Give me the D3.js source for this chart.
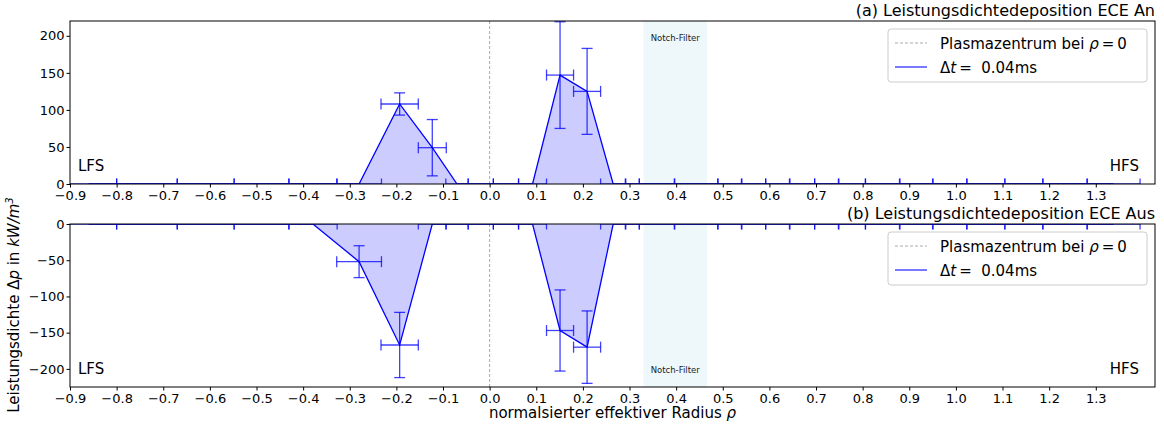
<!DOCTYPE html>
<html>
<head>
<meta charset="utf-8">
<script src="https://cdn.jsdelivr.net/npm/d3@7"></script>
<style>
  body { margin: 0; background: #fff; }
  svg { font-family: "DejaVu Sans", sans-serif; }
</style>
</head>
<body>
<div id="container"></div>
<script>
/* DATA */
// channel positions (normalised radius) and their half widths
const rho  = [-0.86, -0.735, -0.609, -0.489, -0.379, -0.280, -0.193, -0.123, -0.070, -0.019, 0.035, 0.092, 0.151, 0.209, 0.265, 0.306, 0.359, 0.443, 0.515, 0.566, 0.618, 0.670, 0.723, 0.777, 0.843, 0.915, 0.987, 1.064, 1.146, 1.234, 1.338];
const xErr = [0.06, 0.065, 0.061, 0.059, 0.052, 0.048, 0.040, 0.030, 0.024, 0.027, 0.027, 0.030, 0.029, 0.029, 0.027, 0.015, 0.038, 0.047, 0.026, 0.026, 0.026, 0.027, 0.026, 0.029, 0.037, 0.036, 0.037, 0.041, 0.041, 0.048, 0.057];
// (a) ECE an
const valA = [0, 0, 0, 0, 0, 0, 108, 49, 0, 0, 0, 0, 147, 125, 0, 0, 0, 0, 0, 0, 0, 0, 0, 0, 0, 0, 0, 0, 0, 0, 0];
const errA = [0, 0, 0, 0, 0, 0, 15, 38, 0, 0, 0, 0, 72, 58, 0, 0, 0, 0, 0, 0, 0, 0, 0, 0, 0, 0, 0, 0, 0, 0, 0];
// (b) ECE aus
const valB = [0, 0, 0, 0, 0, -52, -167, 0, 0, 0, 0, 0, -147, -170, 0, 0, 0, 0, 0, 0, 0, 0, 0, 0, 0, 0, 0, 0, 0, 0, 0];
const errB = [0, 0, 0, 0, 0, 22, 45, 0, 0, 0, 0, 0, 56, 50, 0, 0, 0, 0, 0, 0, 0, 0, 0, 0, 0, 0, 0, 0, 0, 0, 0];
const xTicks = d3.range(-9, 14).map(d => d / 10);
const notch = [0.330, 0.466];

/* CONSTANTS */
const width = 1164, height = 427;
const left = 70, right = 1155;
const blue = "#0000ff";

const svg = d3.select("#container").append("svg")
  .attr("width", width).attr("height", height);

const x = d3.scaleLinear().domain([-0.9, 1.427]).range([left, right]);

const fmt = d => d3.format(".1f")(d).replace("-", "\u2212");
const yfmt = d => String(d).replace("-", "\u2212");

function panel(id, top, bottom, yDomain, yTicks, vals, errs, title, notchBottom) {
  const y = d3.scaleLinear().domain(yDomain).range([bottom, top]);
  const g = svg.append("g");

  g.append("clipPath").attr("id", "clip" + id)
    .append("rect").attr("x", left).attr("y", top)
    .attr("width", right - left).attr("height", bottom - top);

  const plot = g.append("g").attr("clip-path", `url(#clip${id})`);

  // notch filter band
  plot.append("rect")
    .attr("x", x(notch[0])).attr("width", x(notch[1]) - x(notch[0]))
    .attr("y", top).attr("height", bottom - top)
    .attr("fill", "#eef7fa");
  plot.append("text")
    .attr("x", (x(notch[0]) + x(notch[1])) / 2)
    .attr("y", notchBottom ? bottom - 14 : top + 20)
    .attr("text-anchor", "middle").attr("font-size", 8.5).attr("fill", "#222")
    .text("Notch-Filter");

  // centre line
  plot.append("line")
    .attr("x1", x(0)).attr("x2", x(0)).attr("y1", top).attr("y2", bottom)
    .attr("stroke", "#aaa").attr("stroke-width", 1).attr("stroke-dasharray", "3,2");

  const pts = rho.map((r, i) => ({ r, v: vals[i], e: errs[i], xe: xErr[i] }));

  // fill between curve and zero
  plot.append("path").datum(pts)
    .attr("d", d3.area().x(d => x(d.r)).y0(y(0)).y1(d => y(d.v)))
    .attr("fill", blue).attr("fill-opacity", 0.2);

  plot.append("path").datum(pts)
    .attr("d", d3.line().x(d => x(d.r)).y(d => y(d.v)))
    .attr("fill", "none").attr("stroke", blue).attr("stroke-width", 1.3);

  // error bars
  const cap = 5.5;
  const eb = plot.append("g").attr("stroke", blue).attr("stroke-opacity", 0.75).attr("stroke-width", 1.3);
  pts.forEach(d => {
    const cx = x(d.r), cy = y(d.v);
    const x0 = x(d.r - d.xe), x1 = x(d.r + d.xe);
    eb.append("line").attr("x1", x0).attr("x2", x1).attr("y1", cy).attr("y2", cy);
    [x0, x1].forEach(xx => eb.append("line").attr("x1", xx).attr("x2", xx).attr("y1", cy - cap).attr("y2", cy + cap));
    if (d.e > 0) {
      const y0 = y(d.v - d.e), y1 = y(d.v + d.e);
      eb.append("line").attr("x1", cx).attr("x2", cx).attr("y1", y0).attr("y2", y1);
      [y0, y1].forEach(yy => eb.append("line").attr("x1", cx - cap).attr("x2", cx + cap).attr("y1", yy).attr("y2", yy));
    }
  });

  // frame
  g.append("rect").attr("x", left).attr("y", top)
    .attr("width", right - left).attr("height", bottom - top)
    .attr("fill", "none").attr("stroke", "#000").attr("stroke-width", 1);

  // axes
  const xAxis = g.append("g").attr("transform", `translate(0,${bottom})`)
    .call(d3.axisBottom(x).tickValues(xTicks).tickFormat(fmt).tickSize(3.5).tickPadding(3));
  const yAxis = g.append("g").attr("transform", `translate(${left},0)`)
    .call(d3.axisLeft(y).tickValues(yTicks).tickFormat(yfmt).tickSize(3.5).tickPadding(2));
  [xAxis, yAxis].forEach(a => {
    a.select(".domain").remove();
    a.selectAll("text").attr("font-size", 13).attr("fill", "#000").attr("font-family", "DejaVu Sans");
  });

  // title
  g.append("text").attr("x", right).attr("y", top - 5)
    .attr("text-anchor", "end").attr("font-size", 16).text(title);

  // LFS / HFS
  g.append("text").attr("x", left + 8).attr("y", bottom - 13).attr("font-size", 15).text("LFS");
  g.append("text").attr("x", right - 16).attr("y", bottom - 13)
    .attr("text-anchor", "end").attr("font-size", 15).text("HFS");

  // legend
  const lg = g.append("g").attr("transform", `translate(888,${top + 8})`);
  lg.append("rect").attr("width", 259).attr("height", 53).attr("rx", 3)
    .attr("fill", "#fff").attr("fill-opacity", 0.8).attr("stroke", "#ccc");
  lg.append("line").attr("x1", 7).attr("x2", 39).attr("y1", 14).attr("y2", 14)
    .attr("stroke", "#aaa").attr("stroke-dasharray", "3,2");
  lg.append("line").attr("x1", 7).attr("x2", 39).attr("y1", 38).attr("y2", 38)
    .attr("stroke", blue).attr("stroke-opacity", 0.7).attr("stroke-width", 1.5);
  const t1 = lg.append("text").attr("x", 52).attr("y", 19.5).attr("font-size", 15);
  t1.append("tspan").text("Plasmazentrum bei ");
  t1.append("tspan").attr("font-style", "italic").text("\u03c1");
  t1.append("tspan").text("\u2009=\u20090");
  const t2 = lg.append("text").attr("x", 52).attr("y", 43.5).attr("font-size", 15);
  t2.append("tspan").text("\u0394");
  t2.append("tspan").attr("font-style", "italic").text("t");
  t2.append("tspan").text("\u2009=\u00a0\u00a00.04ms");
}

panel("a", 21, 184, [0, 220], [0, 50, 100, 150, 200], valA, errA,
  "(a) Leistungsdichtedeposition ECE An", false);
panel("b", 224, 387, [-225, 0], [-200, -150, -100, -50, 0], valB, errB,
  "(b) Leistungsdichtedeposition ECE Aus", true);

// axis labels
const xl = svg.append("text").attr("x", (left + right) / 2).attr("y", 418)
  .attr("text-anchor", "middle").attr("font-size", 15);
xl.append("tspan").text("normalsierter effektiver Radius ");
xl.append("tspan").attr("font-style", "italic").text("\u03c1");

const yl = svg.append("text").attr("transform", `translate(19,305) rotate(-90)`)
  .attr("text-anchor", "middle").attr("font-size", 15);
yl.append("tspan").text("Leistungsdichte \u0394");
yl.append("tspan").attr("font-style", "italic").text("p");
yl.append("tspan").text(" in ");
yl.append("tspan").attr("font-style", "italic").text("kW/m");
yl.append("tspan").attr("font-style", "italic").attr("font-size", 10).attr("dy", -6).text("3");
</script>
</body>
</html>
